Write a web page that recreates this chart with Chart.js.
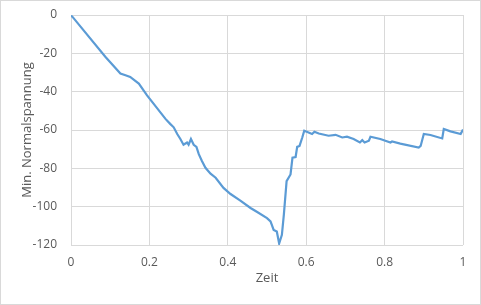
<!DOCTYPE html>
<html>
<head>
<meta charset="utf-8">
<script src="https://cdn.jsdelivr.net/npm/chart.js@4/dist/chart.umd.min.js"></script>
<style>
  body { margin: 0; background: #fff; }
  #box { width: 481px; height: 305px; box-sizing: border-box; border: 1px solid #d9d9d9; }
</style>
</head>
<body>
<div id="box"><canvas id="chart" width="479" height="303"></canvas></div>
<script>
// Zeit (x) and Min. Normalspannung (y)
const zeit = [0, 0.004, 0.0875, 0.126, 0.139, 0.151, 0.173, 0.194, 0.241, 0.253, 0.262,
  0.271, 0.279, 0.287, 0.296, 0.300, 0.306, 0.313, 0.320, 0.326, 0.334, 0.343,
  0.356, 0.369, 0.389, 0.407, 0.432, 0.458, 0.475, 0.500, 0.509, 0.517, 0.525,
  0.531, 0.538, 0.543, 0.550, 0.560, 0.565, 0.573, 0.577, 0.583, 0.590, 0.595,
  0.606, 0.615, 0.621, 0.632, 0.657, 0.675, 0.692, 0.704, 0.721, 0.737, 0.743,
  0.749, 0.760, 0.764, 0.789, 0.815, 0.819, 0.840, 0.887, 0.892, 0.900, 0.917,
  0.947, 0.951, 0.968, 0.994, 1.0];
const spannung = [-0.3, -1.0, -21.8, -30.5, -31.4, -32.3, -35.8, -41.9, -54.2, -56.8, -58.6,
  -62.1, -64.7, -67.7, -66.5, -67.7, -64.7, -67.7, -68.8, -72.6, -76.2, -79.7,
  -82.8, -84.9, -90.2, -93.4, -96.8, -100.7, -102.8, -106.0, -107.7, -112.1, -113.0,
  -119.2, -114.7, -104.2, -86.7, -83.2, -74.4, -74.1, -68.8, -68.3, -63.9, -60.4,
  -61.3, -62.1, -60.9, -61.8, -63.0, -62.5, -63.9, -63.5, -64.7, -66.5, -65.3,
  -66.5, -65.6, -63.5, -64.7, -66.5, -66.0, -67.1, -69.2, -68.3, -62.1, -62.6,
  -64.4, -59.5, -60.7, -62.1, -59.8];
const xTicks = [0, 0.2, 0.4, 0.6, 0.8, 1];
const yTicks = [-120, -100, -80, -60, -40, -20, 0];

const points = zeit.map((x, i) => ({ x: x, y: spannung[i] }));
const textColor = '#595959';
const gridColor = '#d9d9d9';
const font = { family: 'Open Sans', size: 12 };

new Chart(document.getElementById('chart'), {
  type: 'scatter',
  data: {
    datasets: [{
      data: points,
      showLine: true,
      borderColor: '#5b9bd5',
      borderWidth: 2.2,
      pointRadius: 0,
      tension: 0,
      fill: false
    }]
  },
  options: {
    responsive: false,
    animation: false,
    layout: { padding: { top: 14, right: 17, bottom: 0, left: 0 } },
    plugins: { legend: { display: false }, tooltip: { enabled: false } },
    scales: {
      x: {
        type: 'linear',
        min: 0, max: 1,
        afterBuildTicks: s => { s.ticks = xTicks.map(v => ({ value: v })); },
        afterFit: s => { s.height = 59; s.paddingLeft = 0; s.paddingRight = 0; },
        grid: { color: gridColor, drawTicks: false },
        border: { display: false },
        ticks: { color: textColor, font: font, padding: 10, maxRotation: 0, callback: v => String(v) },
        title: { display: true, text: 'Zeit', color: textColor, font: { family: 'Open Sans', size: 13 }, padding: { top: 0, bottom: 18 } }
      },
      y: {
        min: -120, max: 0,
        afterBuildTicks: s => { s.ticks = yTicks.map(v => ({ value: v })); },
        afterFit: s => { s.width = 70; s.paddingTop = 0; s.paddingBottom = 0; },
        grid: { color: gridColor, drawTicks: false },
        border: { display: false },
        ticks: { color: textColor, font: font, padding: 14, callback: v => String(v) },
        title: { display: true, text: 'Min. Normalspannung', color: textColor, font: { family: 'Open Sans', size: 13 }, padding: { top: 18, bottom: 0 } }
      }
    }
  }
});
</script>
</body>
</html>
